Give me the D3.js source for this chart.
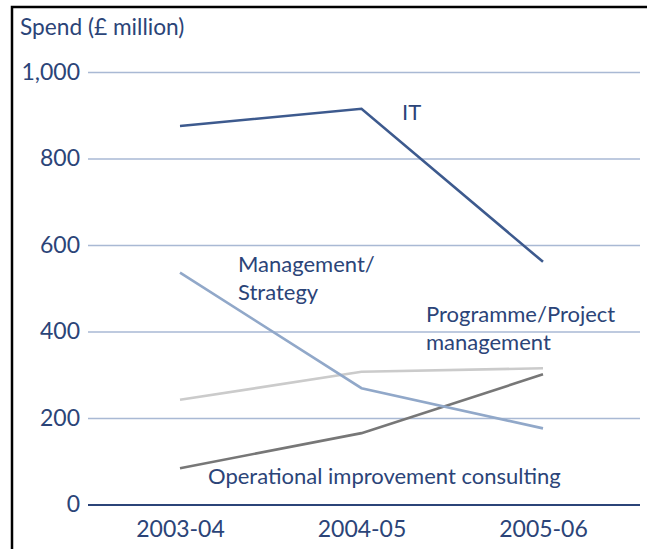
<!DOCTYPE html>
<html><head><meta charset="utf-8">
<script src="https://cdn.jsdelivr.net/npm/d3@7"></script>
<style>body{margin:0;background:#fff}svg{display:block}text{font-family:Lato,"Open Sans",sans-serif;fill:#2b4478}</style>
</head><body><svg id="c" width="647" height="549"></svg>
<script>
const years = ["2003-04","2004-05","2005-06"];
const itSpend = [875, 915, 561];
const mgmtSpend = [536, 269, 176];
const progSpend = [242, 307, 315];
const opSpend = [84, 165, 301];
const yTicks = [0,200,400,600,800,1000];

const svg = d3.select("#c");
// frame
svg.append("path").attr("d","M12,549V7H647").attr("fill","none").attr("stroke","#000").attr("stroke-width",2.5);

const x = d3.scalePoint().domain(years).range([180,543]);
const y = d3.scaleLinear().domain([0,1000]).range([504.5,72]);
const gx0 = 88, gx1 = 640;

const yAxis = d3.axisLeft(y).tickValues(yTicks).tickFormat(d3.format(",")).tickSize(-(gx1-gx0)).tickPadding(8);
const ga = svg.append("g").attr("transform",`translate(${gx0},0)`).call(yAxis);
ga.select(".domain").remove();
ga.selectAll(".tick line").attr("stroke",d=>d===0?"#2b4478":"#a9b9d4").attr("stroke-width",d=>d===0?2.2:1.4);
ga.selectAll(".tick text").attr("font-size",23).attr("x",-8).style("fill","#2b4478");

const xAxis = d3.axisBottom(x).tickSize(0).tickPadding(16);
const gb = svg.append("g").attr("transform",`translate(0,${y(0)})`).call(xAxis);
gb.select(".domain").remove();
gb.selectAll(".tick text").attr("font-size",23).style("fill","#2b4478");

const line = d3.line().x((d,i)=>x(years[i])).y(d=>y(d));
const series = [
  {v: progSpend, c:"#cbcbcb"},
  {v: opSpend, c:"#777777"},
  {v: mgmtSpend, c:"#91a8c9"},
  {v: itSpend, c:"#3d5a8e"}
];
series.forEach(s=>{
  svg.append("path").datum(s.v).attr("d",line).attr("fill","none").attr("stroke",s.c).attr("stroke-width",2.6);
});

function label(lines, lx, ly, fs){
  const t = svg.append("text").attr("x",lx).attr("y",ly).attr("font-size",fs||22);
  lines.forEach((l,i)=>t.append("tspan").attr("x",lx).attr("dy",i?28:0).text(l));
}
label(["Spend (£ million)"],20,35,22.7);
label(["IT"],402,120);
label(["Management/","Strategy"],238,272);
label(["Programme/Project","management"],426,322);
label(["Operational improvement consulting"],208,484);
</script></body></html>
